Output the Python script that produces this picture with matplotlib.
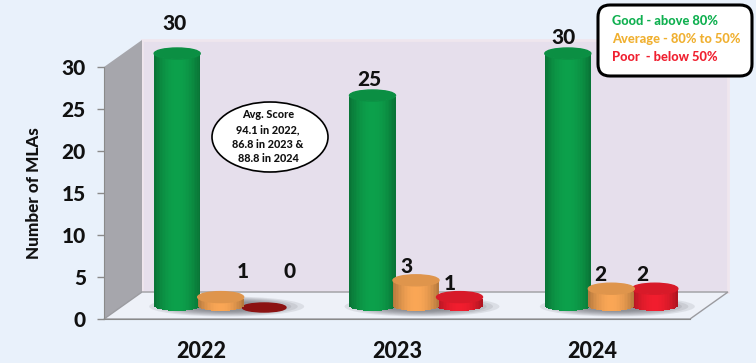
import numpy as np
from matplotlib import pyplot as plt
from matplotlib.colors import to_rgb
from matplotlib.patches import Ellipse, FancyBboxPatch, Polygon
from matplotlib.transforms import IdentityTransform

years = ['2022', '2023', '2024']
good = [30, 25, 30]
average = [1, 3, 2]
poor = [0, 1, 2]
y_ticks = [0, 5, 10, 15, 20, 25, 30]
legend_lines = ['Good - above 80%', 'Average - 80% to 50%', 'Poor  - below 50%']
note_lines = ['Avg. Score', '94.1 in 2022,', '86.8 in 2023 &', '88.8 in 2024']

# pixel offsets of the value labels, they are hand placed in the original
good_offsets = [(-3, 20), (-3, 6), (-4, 7)]
average_offsets = [(22, 16), (-10, 4), (-11, 5)]
poor_offsets = [(25, 25), (-10, 4), (-13, 5)]

GREEN = '#0c9a48'
ORANGE = '#f0a052'
RED = '#e81c2c'
DARK_RED = '#8c1212'
BG = '#e9f1fb'
W, H = 756, 363

plt.rcParams['font.family'] = ['Lato', 'DejaVu Sans']
plt.rcParams['font.weight'] = 'black'
plt.rcParams['axes.labelweight'] = 'black'

fig = plt.figure(figsize=(W / 100, H / 100), dpi=100, facecolor=BG)
ax = fig.add_axes([104 / W, (H - 319) / H, 586 / W, 252 / H], facecolor='none')
ax.set_xlim(-0.5, 2.5)
ax.set_ylim(0, 30)

# size of one pixel in data units
px = 3 / 586
py = 30 / 252
depth_x = 38 * px
depth_y = 27 * py
bar_w = 46 * px
bar_step = 43.5 * px
cap = 5.5 * py


def shade(color, t):
    # t goes from -1 to 1 over the cylinder, darker on the sides
    k = 0.74 + 0.30 * (1 - t ** 2)
    return tuple(min(1, c * k) for c in to_rgb(color))


def cylinder(x, value, color):
    base = depth_y / 2
    if value == 0:
        ax.add_patch(Ellipse((x, base - 2 * py), bar_w * 0.95, 9 * py, color=DARK_RED,
                             clip_on=False, zorder=5))
        return
    n = 30
    t = (np.arange(n) + 0.5) / n * 2 - 1
    curve = cap * np.sqrt(1 - t ** 2)
    xs = x + t * bar_w / 2
    ax.bar(xs, np.full(n, float(value)), width=bar_w / n * 1.1, bottom=base - curve,
           color=[shade(color, v) for v in t], linewidth=0, clip_on=False, zorder=5)
    top = tuple(min(1, c * 0.93) for c in to_rgb(color))
    ax.add_patch(Ellipse((x, base + value), bar_w, cap * 2, color=top, clip_on=False, zorder=6))


def floor_shadow(x):
    for k in np.linspace(1, 0.5, 7):
        ax.add_patch(Ellipse((x, depth_y / 2 - 1 * py), 155 * px * k, 20 * py * k, color='#4a4a50',
                             alpha=0.11, linewidth=0, clip_on=False, zorder=3))


# box walls and floor
x0, x1 = ax.get_xlim()
top = 30 + depth_y
back = Polygon([(x0 + depth_x, depth_y), (x1 + depth_x, depth_y), (x1 + depth_x, top), (x0 + depth_x, top)],
               facecolor='#e6dfec', edgecolor='#efe6ee', linewidth=2, clip_on=False, zorder=1)
side = Polygon([(x0, 0), (x0 + depth_x, depth_y), (x0 + depth_x, top), (x0, 30)],
               facecolor='#a6a6ac', edgecolor='none', clip_on=False, zorder=1)
floor = Polygon([(x0, 0), (x1, 0), (x1 + depth_x, depth_y), (x0 + depth_x, depth_y)],
                facecolor='#eef1f8', edgecolor='#9b9ba0', linewidth=1, clip_on=False, zorder=2)
ax.add_patch(back)
ax.add_patch(side)
ax.add_patch(floor)

groups = np.arange(len(years))
for i in groups:
    centre = i + depth_x / 2
    floor_shadow(centre + 6 * px)
    cylinder(centre - bar_step, good[i], GREEN)
    cylinder(centre + bar_step, poor[i], RED)
    cylinder(centre, average[i], ORANGE)

    for x, v, off in [(centre - bar_step, good[i], good_offsets[i]),
                      (centre, average[i], average_offsets[i]),
                      (centre + bar_step, poor[i], poor_offsets[i])]:
        ax.annotate(str(v), (x, v + depth_y / 2), xytext=(off[0] * 0.72, off[1] * 0.72),
                    textcoords='offset points', ha='center', va='bottom', fontsize=15,
                    color='#111111', annotation_clip=False, zorder=8)

ax.set_xticks(groups, years)
ax.set_yticks(y_ticks)
ax.tick_params(axis='x', length=0, pad=16, labelsize=15.5, labelcolor='#111111')
ax.tick_params(axis='y', length=5, width=1, color='#8a8a8a', pad=8, labelsize=15, labelcolor='#111111')
ax.spines['top'].set_visible(False)
ax.spines['right'].set_visible(False)
ax.spines['left'].set_color('#8a8a8a')
ax.spines['bottom'].set_color('#8a8a8a')
ax.set_ylabel('Number of MLAs', fontsize=12.3, labelpad=14, color='#111111')

# note oval and legend box, placed in pixels
pixels = IdentityTransform()
fig.add_artist(Ellipse((270, H - 137), 116, 70, transform=pixels, facecolor='white',
                       edgecolor='black', linewidth=1.2))
for n, line in enumerate(note_lines):
    fig.text(268 / W, (H - 115 - n * 14.5) / H, line, ha='center', va='center', fontsize=7.8, color='#111111')

fig.add_artist(FancyBboxPatch((608, H - 66), 134, 51, boxstyle='round,pad=10,rounding_size=12', transform=pixels,
                              facecolor='white', edgecolor='black', linewidth=2.2))
for n, (line, col) in enumerate(zip(legend_lines, ['#10b050', '#f0b030', '#f02030'])):
    fig.text(612 / W, (H - 21 - n * 18) / H, line, ha='left', va='center', fontsize=9.3, color=col)

fig.savefig('out.png', dpi=100, facecolor=BG)
